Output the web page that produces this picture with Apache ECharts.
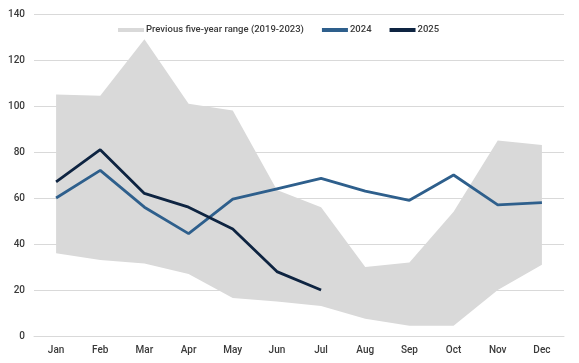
<!DOCTYPE html>
<html>
<head>
<meta charset="utf-8">
<script src="https://cdn.jsdelivr.net/npm/echarts@6/dist/echarts.min.js"></script>
<style>html,body{margin:0;padding:0;background:#fff}#c{width:579px;height:363px}</style>
</head>
<body>
<div id="c"></div>
<script>
const months = ['Jan','Feb','Mar','Apr','May','Jun','Jul','Aug','Sep','Oct','Nov','Dec'];
const rangeLow = [36, 33, 31.5, 27, 16.5, 15, 13, 7.5, 4.5, 4.5, 20, 31];
const rangeHigh = [105, 104.5, 129, 101, 98, 63.5, 56, 30, 32, 54, 85, 83];
const s2024 = [60, 72, 56, 44.5, 59.5, 64, 68.5, 63, 59, 70, 57, 58];
const s2025 = [67, 81, 62, 56, 46.5, 28, 20];
const yTicks = [0, 20, 40, 60, 80, 100, 120, 140];

const rangeDiff = rangeHigh.map((h, i) => h - rangeLow[i]);
const txt = '#3a3a3a';
const chart = echarts.init(document.getElementById('c'), null, {renderer: 'canvas'});
chart.setOption({
  animation: false,
  backgroundColor: '#fff',
  textStyle: {fontFamily: 'Roboto'},
  grid: {left: 34, right: 15, top: 14, bottom: 27, containLabel: false},
  legend: {
    data: ['Previous five-year range (2019-2023)', '2024', '2025'],
    left: 113, top: 20,
    icon: 'rect', itemWidth: 26, itemHeight: 4, itemGap: 18,
    textStyle: {color: txt, fontSize: 9.5, fontWeight: 500, fontFamily: 'Roboto', padding: [0, 0, 0, -3]}
  },
  xAxis: {
    type: 'category', data: months, boundaryGap: true,
    axisLine: {show: true, lineStyle: {color: '#d9d9d9', width: 1}},
    axisTick: {show: false},
    axisLabel: {color: txt, fontSize: 10, fontWeight: 500, margin: 9}
  },
  yAxis: {
    type: 'value', min: yTicks[0], max: yTicks[yTicks.length - 1], interval: 20,
    axisLine: {show: false}, axisTick: {show: false},
    splitLine: {lineStyle: {color: '#d9d9d9', width: 1}},
    axisLabel: {color: txt, fontSize: 10, fontWeight: 500, margin: 9}
  },
  series: [
    {name: 'low', type: 'line', stack: 'r', data: rangeLow, symbol: 'none',
     lineStyle: {opacity: 0}, areaStyle: {opacity: 0}, silent: true, z: 1},
    {name: 'Previous five-year range (2019-2023)', type: 'line', stack: 'r', data: rangeDiff, symbol: 'none',
     itemStyle: {color: '#d9d9d9'},
     lineStyle: {opacity: 0, width: 0}, areaStyle: {color: '#d9d9d9', opacity: 1}, z: 2},
    {name: '2024', type: 'line', data: s2024, symbol: 'none',
     itemStyle: {color: '#2e5f8c'}, lineStyle: {color: '#2e5f8c', width: 2.8}, z: 3},
    {name: '2025', type: 'line', data: s2025, symbol: 'none',
     itemStyle: {color: '#0e2441'}, lineStyle: {color: '#0e2441', width: 2.8}, z: 4}
  ]
});
</script>
</body>
</html>
